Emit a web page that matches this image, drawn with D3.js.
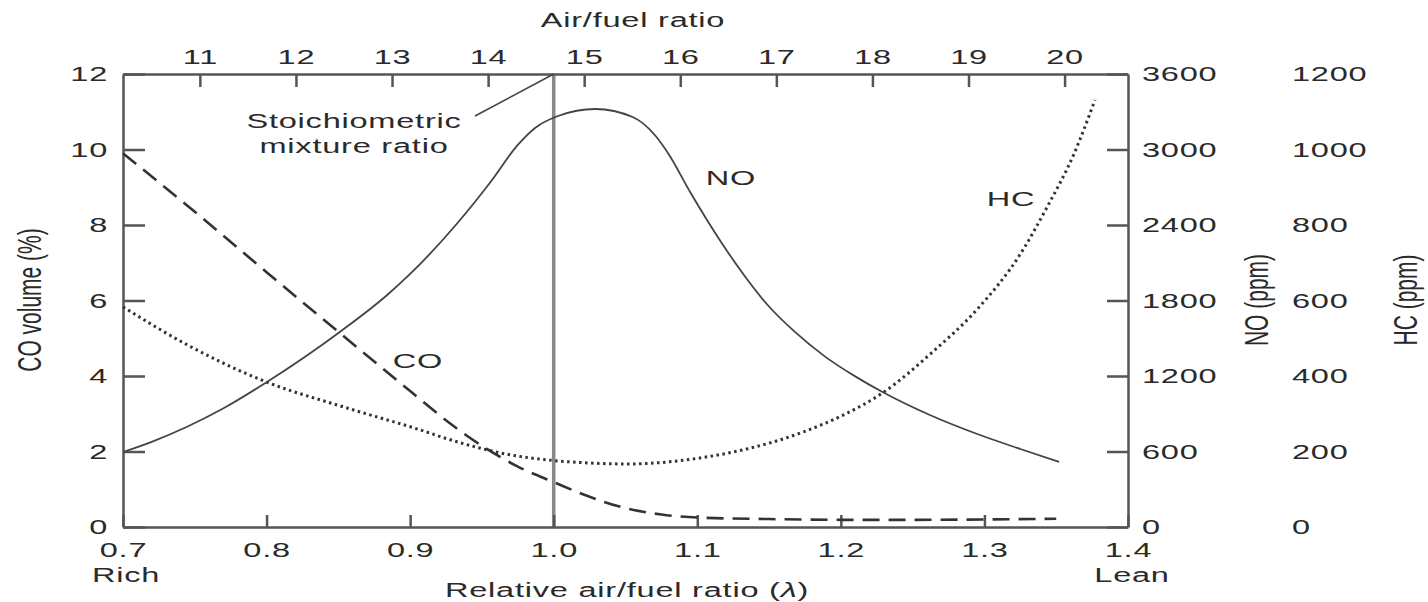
<!DOCTYPE html>
<html>
<head>
<meta charset="utf-8">
<script src="https://cdn.jsdelivr.net/npm/d3@7"></script>
<style>
  body { margin: 0; background: #fff; }
  text { font-family: "Liberation Sans", Arial, sans-serif; fill: #2a2a2a; }
</style>
</head>
<body>
<script>
//Define data
let coLambda = [0.70, 0.75, 0.80, 0.85, 0.90, 0.93, 0.95, 0.975, 1.00, 1.025, 1.05, 1.075, 1.10, 1.15, 1.20, 1.25, 1.30, 1.35];
let coVolume = [9.9, 8.35, 6.75, 5.17, 3.6, 2.68, 2.15, 1.6, 1.19, 0.8, 0.5, 0.33, 0.25, 0.21, 0.19, 0.19, 0.2, 0.22];

let noLambda = [0.700, 0.720, 0.745, 0.770, 0.800, 0.851, 0.884, 0.900, 0.933, 0.956, 0.975, 0.987, 1.003, 1.029, 1.055, 1.071,
                1.080, 1.095, 1.117, 1.133, 1.149, 1.168, 1.189, 1.210, 1.229, 1.262, 1.295, 1.325, 1.352];
let noPpm = [596, 677, 799, 944, 1151, 1550, 1844, 2011, 2416, 2742, 3036, 3171, 3266, 3322, 3258, 3107,
             2964, 2662, 2257, 1995, 1764, 1550, 1354, 1197, 1073, 890, 739, 620, 517];

let hcLambda = [0.700, 0.745, 0.800, 0.851, 0.903, 0.935, 0.970, 1.003, 1.052, 1.102, 1.137, 1.174, 1.203,
                1.229, 1.264, 1.295, 1.325, 1.344, 1.362, 1.377];
let hcPpm = [583, 482, 384, 321, 262, 223, 191, 175, 167, 183, 209, 252, 299,
             355, 464, 577, 723, 850, 985, 1131];

let lambdaTicks = [0.7, 0.8, 0.9, 1.0, 1.1, 1.2, 1.3, 1.4];
let afrTicks = [11, 12, 13, 14, 15, 16, 17, 18, 19, 20];
let coTicks = [0, 2, 4, 6, 8, 10, 12];
let noTicks = [0, 600, 1200, 1800, 2400, 3000, 3600];
let hcTicks = [0, 200, 400, 600, 800, 1000, 1200];

let
  width = 1428,
  height = 602;

let margin = {
  top: 74,
  bottom: 75,
  left: 123,
  right: 300
}

// the original picture is stretched sideways, so is the text
let SX = 1.55;

let svg = d3.select('body')
            .append('svg')
            .attr('width', width)
            .attr('height', height)
            .style('background', '#fff')

//Define the scales:
let xScale = d3.scaleLinear()
              .domain([0.7, 1.4])
              .range([margin.left, width - margin.right])

let afrScale = d3.scaleLinear()
              .domain([10.2, 20.66])
              .range([margin.left, width - margin.right])

let yCO = d3.scaleLinear()
              .domain([0, 12])
              .range([height - margin.bottom, margin.top])

let yNO = d3.scaleLinear()
              .domain([0, 3600])
              .range([height - margin.bottom, margin.top])

let yHC = d3.scaleLinear()
              .domain([0, 1200])
              .range([height - margin.bottom, margin.top])

function styleAxis(g) {
  g.select('.domain').attr('stroke', '#555').attr('stroke-width', 2.5)
  g.selectAll('.tick line').attr('stroke', '#555').attr('stroke-width', 2.5)
  g.selectAll('.tick text')
    .style('font-size', '21px')
    .style('letter-spacing', '0.5px')
    .attr('fill', '#2a2a2a')
    .each(function() {
      let t = d3.select(this)
      let x = +(t.attr('x') || 0)
      t.attr('x', x / SX).attr('transform', `scale(${SX},1)`)
    })
}

function addText(x, y, str, anchor) {
  return svg.append('text')
    .attr('transform', `translate(${x},${y}) scale(${SX},1)`)
    .attr('text-anchor', anchor || 'middle')
    .style('font-size', '21px')
    .style('letter-spacing', '0.5px')
    .text(str)
}

//stoichiometric line
svg.append('line')
  .attr('x1', xScale(1.0)).attr('x2', xScale(1.0))
  .attr('y1', yCO(0)).attr('y2', yCO(12))
  .attr('stroke', '#888')
  .attr('stroke-width', 3.5)

//make axis with the scale functions
svg.append('g')
  .attr('transform', `translate(0, ${height - margin.bottom})`)
  .call(d3.axisBottom(xScale).tickValues(lambdaTicks).tickFormat(d3.format('.1f'))
        .tickSizeInner(-12).tickSizeOuter(0).tickPadding(15))
  .call(styleAxis)

svg.append('g')
  .attr('transform', `translate(0, ${margin.top})`)
  .call(d3.axisTop(afrScale).tickValues(afrTicks).tickFormat(d3.format('d'))
        .tickSizeInner(-13).tickSizeOuter(0).tickPadding(10))
  .call(styleAxis)

svg.append('g')
  .attr('transform', `translate(${margin.left}, 0)`)
  .call(d3.axisLeft(yCO).tickValues(coTicks).tickFormat(d3.format('d'))
        .tickSizeInner(-22).tickSizeOuter(0).tickPadding(15))
  .call(styleAxis)

svg.append('g')
  .attr('transform', `translate(${width - margin.right}, 0)`)
  .call(d3.axisRight(yNO).tickValues(noTicks).tickFormat(d3.format('d'))
        .tickSizeInner(-21).tickSizeOuter(0).tickPadding(14))
  .call(styleAxis)

let hcAxis = svg.append('g')
  .attr('transform', `translate(1292, 0)`)
  .call(d3.axisRight(yHC).tickValues(hcTicks).tickFormat(d3.format('d'))
        .tickSize(0).tickPadding(0))
  .call(styleAxis)
hcAxis.select('.domain').remove()

//draw the lines
let coLine = d3.line()
  .x((d, i) => xScale(coLambda[i]))
  .y(d => yCO(d))
  .curve(d3.curveMonotoneX)

let noLine = d3.line()
  .x((d, i) => xScale(noLambda[i]))
  .y(d => yNO(d))
  .curve(d3.curveMonotoneX)

let hcLine = d3.line()
  .x((d, i) => xScale(hcLambda[i]))
  .y(d => yHC(d))
  .curve(d3.curveMonotoneX)

svg.append('path')
  .datum(hcPpm)
  .attr('d', hcLine)
  .attr('fill', 'none')
  .attr('stroke', '#333')
  .attr('stroke-width', 3)
  .attr('stroke-dasharray', '2.5,3.5')

svg.append('path')
  .datum(noPpm)
  .attr('d', noLine)
  .attr('fill', 'none')
  .attr('stroke', '#444')
  .attr('stroke-width', 1.8)

svg.append('path')
  .datum(coVolume)
  .attr('d', coLine)
  .attr('fill', 'none')
  .attr('stroke', '#333')
  .attr('stroke-width', 2.6)
  .attr('stroke-dasharray', '17,9')

//leader line for the stoichiometric label
svg.append('line')
  .attr('x1', 475).attr('y1', 116)
  .attr('x2', xScale(1.0)).attr('y2', yCO(12))
  .attr('stroke', '#444')
  .attr('stroke-width', 1.5)

//Draw the labels
addText(354, 128, 'Stoichiometric')
addText(354, 153, 'mixture ratio')
addText(731, 185, 'NO')
addText(1011, 206, 'HC')
addText(418, 368, 'CO')

addText(633, 27, 'Air/fuel ratio')
addText(126, 582, 'Rich')
addText(1132, 582, 'Lean')

let xTitle = addText(627, 597, 'Relative air/fuel ratio (')
xTitle.append('tspan').style('font-style', 'italic').text('λ')
xTitle.append('tspan').text(')')

function addRotated(x, y, str) {
  svg.append('text')
    .attr('transform', `translate(${x},${y}) scale(${SX},1) rotate(-90)`)
    .attr('text-anchor', 'middle')
    .attr('dy', '0.35em')
    .style('font-size', '21px')
    .text(str)
}

addRotated(30, 300, 'CO volume (%)')
addRotated(1257, 300, 'NO (ppm)')
addRotated(1406, 300, 'HC (ppm)')
</script>
</body>
</html>
